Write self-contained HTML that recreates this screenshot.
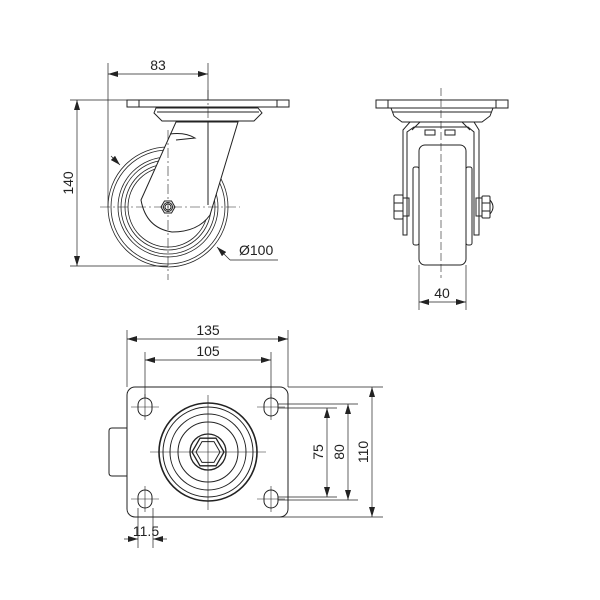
<!DOCTYPE html>
<html><head><meta charset="utf-8"><style>
html,body{margin:0;padding:0;background:#fff}
svg{display:block}
text{font-family:"Liberation Sans","DejaVu Sans",sans-serif;font-size:14px;fill:#222}
</style></head><body>
<svg width="600" height="600" viewBox="0 0 600 600" xmlns="http://www.w3.org/2000/svg">
<defs>
<marker id="a" viewBox="0 0 10 6" refX="10" refY="3" markerWidth="10" markerHeight="6" orient="auto-start-reverse" markerUnits="userSpaceOnUse"><path d="M0,0 L10,3 L0,6 z" fill="#222"/></marker>
</defs>
<g fill="none" stroke="#222" stroke-width="1">
<!-- SIDE VIEW -->
<rect x="127" y="100" width="162" height="7"/>
<line x1="139" y1="100" x2="139" y2="107"/><line x1="277" y1="100" x2="277" y2="107"/>
<path d="M156,108 L258,108 L262,113 L254,121 L162,121 L154,113 Z"/>
<line x1="157" y1="112" x2="259" y2="112"/>
<g stroke-width="0.8">
<circle cx="168" cy="207" r="60"/><circle cx="168" cy="207" r="57"/><circle cx="168" cy="207" r="50"/>
<circle cx="168" cy="207" r="47"/><circle cx="168" cy="207" r="43"/><circle cx="168" cy="207" r="40"/>
</g>
<path d="M176,122 L238,122 L210,215 Q198,232 172,232 Q146,228 141,200 Z" fill="#fff"/>
<path d="M170,134 Q185,132 195,138 L176,140" />
<line x1="208" y1="122" x2="208" y2="205"/>
<polygon points="161,207 164.5,201 171.5,201 175,207 171.5,213 164.5,213" fill="#fff"/>
<circle cx="168" cy="207" r="4.5"/><circle cx="168" cy="207" r="3"/>
<g stroke-dasharray="10,3,2,3" stroke-width="0.6">
<line x1="100" y1="207" x2="240" y2="207"/>
<line x1="168" y1="130" x2="168" y2="280"/>
<line x1="208" y1="90" x2="208" y2="122"/>
</g>
<g stroke-width="0.7">
<line x1="108" y1="63" x2="108" y2="207"/><line x1="208" y1="63" x2="208" y2="100"/>
<line x1="108" y1="74" x2="208" y2="74" marker-start="url(#a)" marker-end="url(#a)"/>
<line x1="70" y1="100" x2="127" y2="100"/><line x1="70" y1="266" x2="168" y2="266"/>
<line x1="77" y1="100" x2="77" y2="266" marker-start="url(#a)" marker-end="url(#a)"/>
<line x1="111" y1="156" x2="120" y2="165" marker-end="url(#a)"/>
<line x1="230" y1="260" x2="217" y2="247" marker-end="url(#a)"/>
<line x1="230" y1="260" x2="278" y2="260"/>
</g>
<!-- FRONT VIEW -->
<rect x="376" y="100" width="132" height="8"/>
<line x1="388" y1="100" x2="388" y2="108"/><line x1="496" y1="100" x2="496" y2="108"/>
<path d="M391,108 L493,108 L490,116 L482,122 L402,122 L394,116 Z"/>
<line x1="393" y1="112" x2="491" y2="112"/>
<path d="M403,235 L403,130 L410,122 L474,122 L479,130 L479,235 L474,235 L474,132 L468,127 L414,127 L407,132 L407,235 Z"/>
<path d="M412,130 L420,122 M470,130 L462,122"/>
<rect x="425" y="130" width="10" height="5"/><rect x="445" y="130" width="10" height="5"/>
<rect x="413" y="167" width="6" height="78" rx="2"/><rect x="466" y="167" width="6" height="78" rx="2"/>
<rect x="419" y="145" width="47" height="120" rx="6" fill="#fff"/>
<rect x="394" y="195" width="9" height="24" rx="1"/><line x1="394" y1="203" x2="403" y2="203"/><line x1="394" y1="211" x2="403" y2="211"/>
<rect x="403" y="198" width="6" height="18"/>
<rect x="476" y="198" width="6" height="18"/>
<rect x="482" y="196" width="8" height="22" rx="1"/><line x1="482" y1="203" x2="490" y2="203"/><line x1="482" y1="211" x2="490" y2="211"/>
<path d="M490,200 Q496,207 490,214"/>
<line x1="441" y1="88" x2="441" y2="278" stroke-dasharray="8,3" stroke-width="0.6"/>
<g stroke-width="0.7">
<line x1="419" y1="265" x2="419" y2="310"/><line x1="466" y1="265" x2="466" y2="310"/>
<line x1="419" y1="302" x2="466" y2="302" marker-start="url(#a)" marker-end="url(#a)"/>
</g>
<!-- BOTTOM VIEW -->
<rect x="127" y="387" width="161" height="130" rx="8"/>
<path d="M127,428 L112,428 Q109,428 109,431 L109,473 Q109,476 112,476 L127,476"/>
<g>
<rect x="138" y="398" width="14" height="18" rx="7"/><rect x="264" y="398" width="14" height="18" rx="7"/>
<rect x="138" y="490" width="14" height="18" rx="7"/><rect x="264" y="490" width="14" height="18" rx="7"/>
</g>
<circle cx="208" cy="452" r="49" stroke-width="1.6"/><circle cx="208" cy="452" r="45"/>
<circle cx="208" cy="452" r="38"/><circle cx="208" cy="452" r="30"/>
<circle cx="208" cy="452" r="18" stroke-width="1.3"/>
<polygon points="224,452 216,465.8 200,465.8 192,452 200,438.2 216,438.2" stroke-width="1.3"/>
<polygon points="220,452 214,462.4 202,462.4 196,452 202,441.6 214,441.6"/>
<g stroke-width="0.6">
<line x1="150" y1="452" x2="266" y2="452"/><line x1="208" y1="395" x2="208" y2="510"/>
<line x1="131" y1="407" x2="159" y2="407"/><line x1="145" y1="394" x2="145" y2="420"/>
<line x1="257" y1="407" x2="285" y2="407"/><line x1="271" y1="394" x2="271" y2="420"/>
<line x1="131" y1="499" x2="159" y2="499"/><line x1="145" y1="486" x2="145" y2="512"/>
<line x1="257" y1="499" x2="285" y2="499"/><line x1="271" y1="486" x2="271" y2="512"/>
</g>
<g stroke-width="0.7">
<line x1="127" y1="330" x2="127" y2="387"/><line x1="288" y1="330" x2="288" y2="387"/>
<line x1="127" y1="339" x2="288" y2="339" marker-start="url(#a)" marker-end="url(#a)"/>
<line x1="145" y1="352" x2="145" y2="398"/><line x1="271" y1="352" x2="271" y2="398"/>
<line x1="145" y1="360" x2="271" y2="360" marker-start="url(#a)" marker-end="url(#a)"/>
<line x1="288" y1="387" x2="383" y2="387"/><line x1="278" y1="404" x2="358" y2="404"/><line x1="278" y1="408" x2="337" y2="408"/>
<line x1="278" y1="497" x2="337" y2="497"/><line x1="278" y1="500" x2="358" y2="500"/><line x1="280" y1="517" x2="383" y2="517"/>
<line x1="327" y1="408" x2="327" y2="497" marker-start="url(#a)" marker-end="url(#a)"/>
<line x1="348" y1="404" x2="348" y2="500" marker-start="url(#a)" marker-end="url(#a)"/>
<line x1="372" y1="387" x2="372" y2="517" marker-start="url(#a)" marker-end="url(#a)"/>
<line x1="138" y1="508" x2="138" y2="548"/><line x1="153" y1="508" x2="153" y2="548"/>
<line x1="124" y1="539" x2="138" y2="539" marker-end="url(#a)"/><line x1="167" y1="539" x2="153" y2="539" marker-end="url(#a)"/>
</g>
</g>
<text x="158" y="70" text-anchor="middle">83</text>
<text transform="translate(73,183) rotate(-90)" text-anchor="middle">140</text>
<text x="239" y="255">Ø100</text>
<text x="442" y="298" text-anchor="middle">40</text>
<text x="208" y="335" text-anchor="middle">135</text>
<text x="208" y="356" text-anchor="middle">105</text>
<text transform="translate(323,452) rotate(-90)" text-anchor="middle">75</text>
<text transform="translate(344,452) rotate(-90)" text-anchor="middle">80</text>
<text transform="translate(368,452) rotate(-90)" text-anchor="middle">110</text>
<text x="146" y="536" text-anchor="middle">11.5</text>
</svg>
</body></html>
